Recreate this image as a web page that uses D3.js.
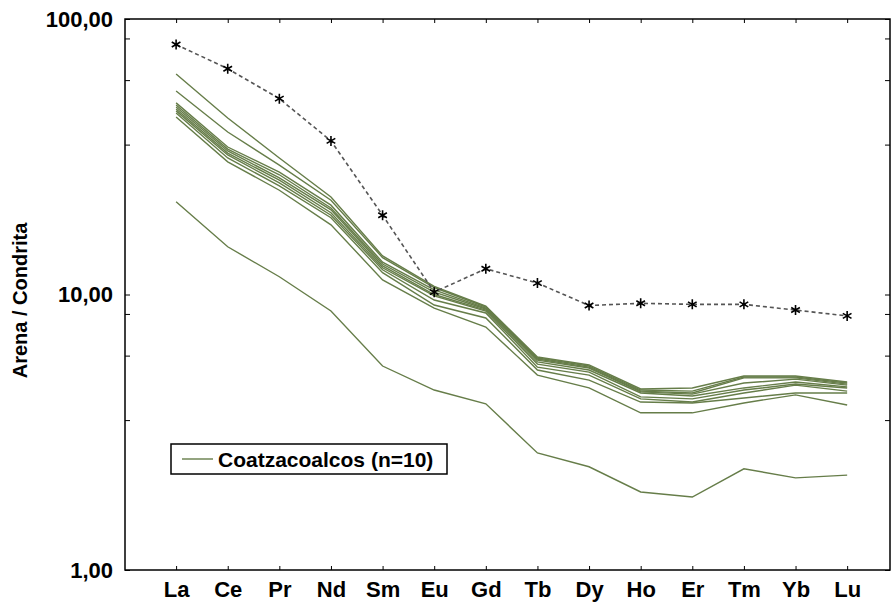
<!DOCTYPE html>
<html>
<head>
<meta charset="utf-8">
<script src="https://cdn.jsdelivr.net/npm/d3@7"></script>
<style>
  body { margin: 0; background: #fff; }
  text { font-family: "Liberation Sans", Arial, sans-serif; }
</style>
</head>
<body>
<div id="graph"></div>
<script>
// rare earth elements on the x axis
var elements = ["La", "Ce", "Pr", "Nd", "Sm", "Eu", "Gd", "Tb", "Dy", "Ho", "Er", "Tm", "Yb", "Lu"];

// dashed reference line (stars)
var reference = [80.8, 66.0, 51.4, 36.1, 19.4, 10.2, 12.4, 11.0, 9.12, 9.29, 9.21, 9.21, 8.78, 8.36];

// Coatzacoalcos samples, sand / chondrite
var sample01 = [63.1, 43.7, 31.3, 22.6, 13.8, 10.7, 9.08, 5.93, 5.55, 4.54, 4.58, 5.06, 5.06, 4.81];
var sample02 = [54.8, 38.9, 29.5, 22.0, 13.6, 10.6, 9.01, 5.88, 5.50, 4.50, 4.46, 5.02, 5.02, 4.77];
var sample03 = [49.6, 34.3, 27.8, 21.1, 13.1, 10.4, 8.93, 5.83, 5.45, 4.46, 4.39, 4.98, 4.98, 4.73];
var sample04 = [48.7, 33.7, 27.2, 20.6, 12.9, 10.2, 8.86, 5.78, 5.41, 4.43, 4.35, 4.77, 4.93, 4.69];
var sample05 = [47.9, 33.2, 26.5, 20.3, 12.7, 10.0, 8.78, 5.69, 5.32, 4.39, 4.28, 4.58, 4.81, 4.62];
var sample06 = [47.1, 32.6, 26.0, 19.8, 12.5, 9.88, 8.71, 5.59, 5.23, 4.25, 4.18, 4.50, 4.73, 4.58];
var sample07 = [46.4, 32.1, 25.4, 19.4, 12.3, 9.55, 8.57, 5.45, 5.10, 4.18, 4.07, 4.39, 4.69, 4.46];
var sample08 = [45.6, 31.3, 24.8, 19.0, 12.0, 9.16, 8.22, 5.32, 4.89, 4.07, 4.04, 4.21, 4.39, 4.39];
var sample09 = [44.1, 30.3, 23.9, 17.9, 11.3, 8.93, 7.62, 5.10, 4.58, 3.72, 3.72, 4.04, 4.32, 3.97];
var sample10 = [21.7, 14.9, 11.6, 8.71, 5.50, 4.50, 4.01, 2.66, 2.37, 1.92, 1.84, 2.33, 2.16, 2.21];
var samples = [sample01, sample02, sample03, sample04, sample05, sample06, sample07, sample08, sample09, sample10];

var yMajor = [1, 10, 100];
var yMinor = [3.5, 6, 8.5, 35, 60, 85];
var legendLabel = "Coatzacoalcos (n=10)";

var width = 892, height = 605;
var margin = {top: 19, right: 2, bottom: 35, left: 125};

var x = d3.scaleLinear()
    .domain([-0.99, elements.length - 0.17])
    .range([margin.left, width - margin.right]);

var y = d3.scaleLog()
    .domain([1, 100])
    .range([height - margin.bottom, margin.top]);

var green = "#667d49";
var fmt = function (d) { return d3.format(".2f")(d).replace(".", ","); };

var svg = d3.select("#graph").append("svg")
    .attr("width", width)
    .attr("height", height);

// frame ticks, all pointing inwards
var xIdx = d3.range(elements.length);
svg.append("g")
    .attr("transform", "translate(0," + y(1) + ")")
    .call(d3.axisBottom(x).tickValues(xIdx).tickSize(-4).tickFormat(function (i) { return elements[i]; }))
    .call(function (g) {
      g.select(".domain").remove();
      g.selectAll("line").attr("stroke", "#000");
      g.selectAll("text")
          .attr("dy", null)
          .attr("y", 27)
          .attr("font-size", 22)
          .attr("font-weight", "bold")
          .attr("fill", "#000");
    });

svg.append("g")
    .attr("transform", "translate(0," + y(100) + ")")
    .call(d3.axisTop(x).tickValues(xIdx).tickSize(-4).tickFormat(""))
    .call(function (g) { g.select(".domain").remove(); g.selectAll("line").attr("stroke", "#000"); });

svg.append("g")
    .attr("transform", "translate(" + x.range()[0] + ",0)")
    .call(d3.axisLeft(y).tickValues(yMajor.concat(yMinor)).tickSize(-5).tickPadding(12)
      .tickFormat(function (d) { return yMajor.indexOf(d) >= 0 ? fmt(d) : ""; }))
    .call(function (g) {
      g.select(".domain").remove();
      g.selectAll("line").attr("stroke", "#000");
      g.selectAll("text")
          .attr("font-size", 22)
          .attr("font-weight", "bold")
          .attr("fill", "#000");
    });

svg.append("g")
    .attr("transform", "translate(" + x.range()[1] + ",0)")
    .call(d3.axisRight(y).tickValues(yMajor.concat(yMinor)).tickSize(-5).tickFormat(""))
    .call(function (g) { g.select(".domain").remove(); g.selectAll("line").attr("stroke", "#000"); });

svg.append("rect")
    .attr("x", x.range()[0])
    .attr("y", y(100))
    .attr("width", x.range()[1] - x.range()[0])
    .attr("height", y(1) - y(100))
    .attr("fill", "none")
    .attr("stroke", "#000")
    .attr("stroke-width", 1.5);

// y title
svg.append("text")
    .attr("transform", "translate(27," + ((y(1) + y(100)) / 2 + 6) + ") rotate(-90)")
    .attr("text-anchor", "middle")
    .attr("font-size", 20)
    .attr("font-weight", "bold")
    .text("Arena / Condrita");

var line = d3.line()
    .x(function (d, i) { return x(i); })
    .y(function (d) { return y(d); });

// sample lines
svg.append("g")
  .selectAll("path")
  .data(samples)
  .enter().append("path")
    .attr("d", line)
    .attr("fill", "none")
    .attr("stroke", green)
    .attr("stroke-width", 1.4);

// reference, dashed with stars
svg.append("path")
    .datum(reference)
    .attr("d", line)
    .attr("fill", "none")
    .attr("stroke", "#555")
    .attr("stroke-width", 1.6)
    .attr("stroke-dasharray", "4,3");

svg.append("g")
  .selectAll("path")
  .data(reference)
  .enter().append("path")
    .attr("transform", function (d, i) { return "translate(" + x(i) + "," + y(d) + ")"; })
    .attr("d", d3.symbol().type(d3.symbolAsterisk).size(70))
    .attr("fill", "none")
    .attr("stroke", "#000")
    .attr("stroke-width", 1.6);

// legend
var legend = svg.append("g").attr("transform", "translate(171,444)");
legend.append("rect")
    .attr("width", 276)
    .attr("height", 30)
    .attr("fill", "#fff")
    .attr("stroke", "#000")
    .attr("stroke-width", 1.5);
legend.append("line")
    .attr("x1", 11).attr("x2", 42)
    .attr("y1", 15).attr("y2", 15)
    .attr("stroke", green)
    .attr("stroke-width", 1.4);
legend.append("text")
    .attr("x", 47)
    .attr("y", 23)
    .attr("font-size", 21)
    .attr("font-weight", "bold")
    .text(legendLabel);
</script>
</body>
</html>
